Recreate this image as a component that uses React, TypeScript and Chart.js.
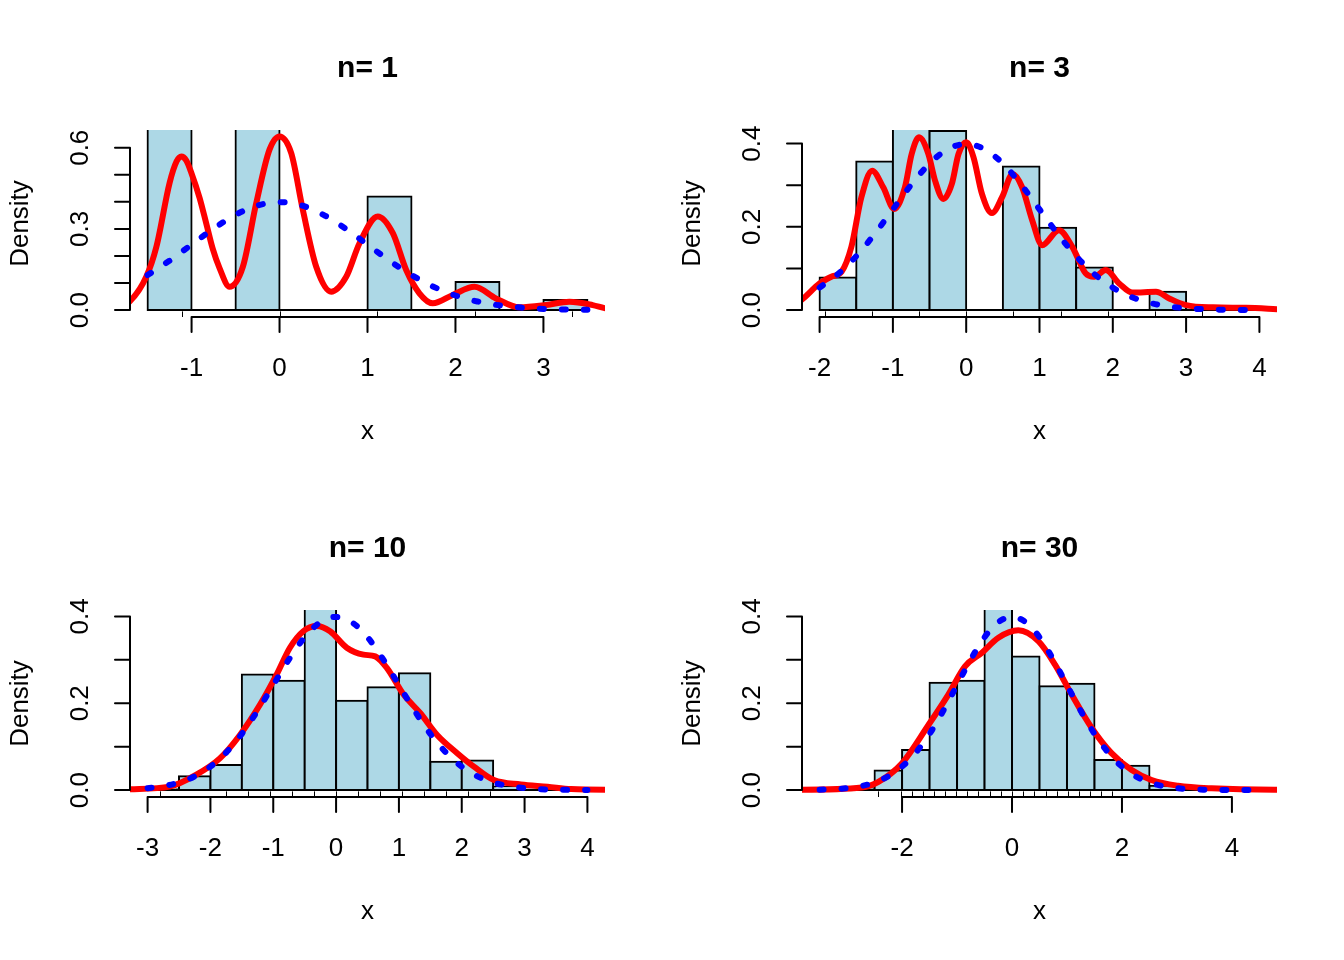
import React, { useEffect, useRef } from "react";
import { Chart, registerables } from "chart.js";

Chart.register(...registerables);

// ---------- data ----------
const panelTitles = ["n= 1", "n= 3", "n= 10", "n= 30"];
const binWidth = 0.5;
const breakStart = [-1.5, -2, -3, -3.5];
const breakEnd = [3.5, 4, 4, 4.5];

// histogram densities (one value per 0.5-wide bin)
const dens1 = [0.72, 0, 0.72, 0, 0, 0.42, 0, 0.104, 0, 0.037];
const dens2 = [0.078, 0.357, 0.44, 0.43, 0, 0.345, 0.198, 0.102, 0, 0.044, 0.008, 0.002];
const dens3 = [0.002, 0.032, 0.058, 0.266, 0.252, 0.52, 0.206, 0.237, 0.269, 0.065, 0.068, 0.008, 0.008, 0.002];
const dens4 = [0.002, 0.004, 0.045, 0.0925, 0.247, 0.252, 0.43, 0.308, 0.239, 0.245, 0.069, 0.056, 0.01, 0.004, 0.002, 0.002];

// kernel density estimates (red)
const kde1X = [-1.85, -1.705, -1.515, -1.4, -1.25, -1.17, -1.117, -1.06, -1.0, -0.909, -0.833, -0.758, -0.682, -0.568, -0.417, -0.265, -0.114, 0, 0.133, 0.265, 0.417, 0.587, 0.758, 0.909, 1.117, 1.288, 1.44, 1.59, 1.742, 1.97, 2.216, 2.46, 2.727, 3.03, 3.295, 3.56, 3.71, 3.85];
const kde1Y = [0.008, 0.031, 0.123, 0.234, 0.47, 0.55, 0.568, 0.553, 0.505, 0.415, 0.32, 0.225, 0.155, 0.086, 0.16, 0.395, 0.593, 0.642, 0.58, 0.37, 0.16, 0.068, 0.123, 0.247, 0.346, 0.284, 0.148, 0.062, 0.025, 0.056, 0.086, 0.043, 0.01, 0.0185, 0.031, 0.0185, 0.006, 0.002];
const kde2X = [-2.4, -2.25, -2.0, -1.84, -1.7, -1.566, -1.43, -1.283, -1.132, -0.982, -0.836, -0.744, -0.644, -0.516, -0.425, -0.311, -0.196, -0.105, 0, 0.1, 0.215, 0.352, 0.489, 0.634, 0.763, 0.9, 1.037, 1.265, 1.447, 1.63, 1.744, 1.904, 2.087, 2.27, 2.589, 2.77, 3.0, 3.366, 3.82, 4.27, 4.4];
const kde2Y = [0.01, 0.024, 0.064, 0.08, 0.092, 0.152, 0.271, 0.335, 0.295, 0.243, 0.295, 0.375, 0.415, 0.375, 0.311, 0.267, 0.303, 0.375, 0.403, 0.367, 0.279, 0.233, 0.271, 0.327, 0.295, 0.216, 0.156, 0.192, 0.152, 0.088, 0.08, 0.096, 0.064, 0.042, 0.044, 0.028, 0.012, 0.0065, 0.0055, 0.002, 0.001];
const kde3X = [-3.45, -3.29, -2.65, -2.23, -1.85, -1.53, -1.21, -0.947, -0.735, -0.522, -0.309, -0.096, 0.17, 0.436, 0.623, 0.81, 1.075, 1.342, 1.608, 1.928, 2.194, 2.513, 2.94, 3.366, 3.74, 4.32, 4.45];
const kde3Y = [0.001, 0.002, 0.008, 0.035, 0.073, 0.127, 0.197, 0.266, 0.328, 0.366, 0.378, 0.366, 0.328, 0.312, 0.308, 0.281, 0.22, 0.177, 0.127, 0.085, 0.054, 0.023, 0.013, 0.0077, 0.0023, 0.001, 0.001];
const kde4X = [-4.0, -3.82, -2.73, -2.43, -2.0, -1.52, -1.158, -0.855, -0.552, -0.248, 0.115, 0.479, 0.782, 1.085, 1.45, 1.81, 2.176, 2.54, 3.02, 3.63, 4.78, 5.0];
const kde4Y = [0.001, 0.001, 0.006, 0.019, 0.062, 0.15, 0.22, 0.285, 0.316, 0.351, 0.368, 0.343, 0.289, 0.22, 0.143, 0.085, 0.046, 0.023, 0.01, 0.004, 0.001, 0.001];

// standard normal density (blue dotted)
const dnormX = [-3.5, -3.25, -3, -2.75, -2.5, -2.25, -2, -1.75, -1.5, -1.25, -1, -0.75, -0.5, -0.25, 0, 0.25, 0.5, 0.75, 1, 1.25, 1.5, 1.75, 2, 2.25, 2.5, 2.75, 3, 3.25, 3.5, 3.75, 4, 4.25, 4.5];
const dnormY = [0.0009, 0.002, 0.0044, 0.0091, 0.0175, 0.0317, 0.054, 0.0863, 0.1295, 0.1826, 0.242, 0.3011, 0.3521, 0.3867, 0.3989, 0.3867, 0.3521, 0.3011, 0.242, 0.1826, 0.1295, 0.0863, 0.054, 0.0317, 0.0175, 0.0091, 0.0044, 0.002, 0.0009, 0.0004, 0.0001, 0.00005, 0.00002];

// rug marks
const rug1 = [-1.11, 0, 1.11, 2.22, 3.32];
const rug2 = [-1.93, -1.28, -0.64, 0, 0.645, 1.29, 1.935, 2.58, 3.22];
const rug3 = [-2.8, -1.75, -1.4, -1.05, -0.7, -0.35, 0, 0.35, 0.7, 1.05, 1.4, 1.75, 2.1, 2.45];
const rug4 = [-2.43, -2.02, -1.82, -1.62, -1.42, -1.21, -1.01, -0.81, -0.61, -0.4, -0.2, 0, 0.2, 0.4, 0.61, 0.81, 1.01, 1.21, 1.42, 1.62, 1.82];

// axes
const xTicks1 = [-1, 0, 1, 2, 3];
const xTicks2 = [-2, -1, 0, 1, 2, 3, 4];
const xTicks3 = [-3, -2, -1, 0, 1, 2, 3, 4];
const xTicks4 = [-2, 0, 2, 4];
const yTicks1 = [0, 0.1, 0.2, 0.3, 0.4, 0.5, 0.6];
const yTicks2 = [0, 0.1, 0.2, 0.3, 0.4];
const yLabels1 = ["0.0", "0.3", "0.6"];
const yLabelVals1 = [0, 0.3, 0.6];
const yLabels2 = ["0.0", "0.2", "0.4"];
const yLabelVals2 = [0, 0.2, 0.4];
const yLimMax = [0.64, 0.416, 0.3989, 0.3989];

const xAxisTitle = "x";
const yAxisTitle = "Density";

const panels = [
  { title: panelTitles[0], b0: breakStart[0], b1: breakEnd[0], dens: dens1, kx: kde1X, ky: kde1Y, rug: rug1, xt: xTicks1, yt: yTicks1, yl: yLabels1, ylv: yLabelVals1, ymax: yLimMax[0] },
  { title: panelTitles[1], b0: breakStart[1], b1: breakEnd[1], dens: dens2, kx: kde2X, ky: kde2Y, rug: rug2, xt: xTicks2, yt: yTicks2, yl: yLabels2, ylv: yLabelVals2, ymax: yLimMax[1] },
  { title: panelTitles[2], b0: breakStart[2], b1: breakEnd[2], dens: dens3, kx: kde3X, ky: kde3Y, rug: rug3, xt: xTicks3, yt: yTicks2, yl: yLabels2, ylv: yLabelVals2, ymax: yLimMax[2] },
  { title: panelTitles[3], b0: breakStart[3], b1: breakEnd[3], dens: dens4, kx: kde4X, ky: kde4Y, rug: rug4, xt: xTicks4, yt: yTicks2, yl: yLabels2, ylv: yLabelVals2, ymax: yLimMax[3] },
];

const FONT = '"Liberation Sans", Arial, sans-serif';
const LABEL_PX = 26;
const TITLE_PX = 30;

function HistPanel({ p }: { p: any }) {
  const ref = useRef<HTMLCanvasElement>(null);
  useEffect(() => {
    const canvas = ref.current!;
    const span = p.b1 - p.b0;
    const centers = p.dens.map((_: number, i: number) => p.b0 + (i + 0.5) * binWidth);

    const rPlugin = {
      id: "rAxes",
      afterDraw(chart: any) {
        const { ctx, chartArea: ca, scales } = chart;
        const xs = scales.x;
        const ys = scales.y;
        ctx.save();
        ctx.strokeStyle = "#000";
        ctx.fillStyle = "#000";
        // rug
        ctx.lineWidth = 1;
        const rugLen = 0.03 * (ca.bottom - ca.top);
        p.rug.forEach((v: number) => {
          const px = Math.round(xs.getPixelForValue(v)) + 0.5;
          ctx.beginPath();
          ctx.moveTo(px, ca.bottom);
          ctx.lineTo(px, ca.bottom - rugLen);
          ctx.stroke();
        });
        // x axis
        ctx.lineWidth = 2;
        ctx.lineCap = "round";
        const xa = xs.getPixelForValue(p.xt[0]);
        const xb = xs.getPixelForValue(p.xt[p.xt.length - 1]);
        ctx.beginPath();
        ctx.moveTo(xa, ca.bottom);
        ctx.lineTo(xb, ca.bottom);
        p.xt.forEach((v: number) => {
          const px = xs.getPixelForValue(v);
          ctx.moveTo(px, ca.bottom);
          ctx.lineTo(px, ca.bottom + 15);
        });
        ctx.stroke();
        // y axis
        const ya = ys.getPixelForValue(p.yt[0]);
        const yb = ys.getPixelForValue(p.yt[p.yt.length - 1]);
        ctx.beginPath();
        ctx.moveTo(ca.left, ya);
        ctx.lineTo(ca.left, yb);
        p.yt.forEach((v: number) => {
          const py = ys.getPixelForValue(v);
          ctx.moveTo(ca.left, py);
          ctx.lineTo(ca.left - 15, py);
        });
        ctx.stroke();
        // x tick labels
        ctx.font = `${LABEL_PX}px ${FONT}`;
        ctx.textAlign = "center";
        ctx.textBaseline = "alphabetic";
        p.xt.forEach((v: number) => {
          ctx.fillText(String(v), xs.getPixelForValue(v), ca.bottom + 59);
        });
        // x title
        ctx.fillText(xAxisTitle, (ca.left + ca.right) / 2, ca.bottom + 122);
        // y tick labels (rotated)
        p.ylv.forEach((v: number, i: number) => {
          ctx.save();
          ctx.translate(ca.left - 42, ys.getPixelForValue(v));
          ctx.rotate(-Math.PI / 2);
          ctx.fillText(p.yl[i], 0, 0);
          ctx.restore();
        });
        // y title
        ctx.save();
        ctx.translate(ca.left - 102, (ca.top + ca.bottom) / 2);
        ctx.rotate(-Math.PI / 2);
        ctx.fillText(yAxisTitle, 0, 0);
        ctx.restore();
        // main title
        ctx.font = `bold ${TITLE_PX}px ${FONT}`;
        ctx.fillText(p.title, (ca.left + ca.right) / 2, ca.top - 53);
        ctx.restore();
      },
    };

    const chart = new Chart(canvas, {
      type: "bar",
      data: {
        datasets: [
          {
            type: "line",
            label: "normal",
            data: dnormX
              .map((x, i) => ({ x, y: dnormY[i] }))
              .filter((pt) => pt.x >= p.b0 - 1e-9 && pt.x <= p.b1 + 1e-9),
            borderColor: "#0000FF",
            borderWidth: 6,
            borderDash: [4, 18],
            borderCapStyle: "round",
            pointRadius: 0,
            cubicInterpolationMode: "monotone",
            tension: 0.4,
            order: 0,
          } as any,
          {
            type: "line",
            label: "kde",
            data: p.kx.map((x: number, i: number) => ({ x, y: p.ky[i] })),
            borderColor: "#FF0000",
            borderWidth: 6,
            borderJoinStyle: "round",
            borderCapStyle: "round",
            pointRadius: 0,
            cubicInterpolationMode: "monotone",
            tension: 0.4,
            order: 1,
          } as any,
          {
            type: "line",
            label: "baseline",
            data: [
              { x: p.b0, y: 0 },
              { x: p.b1, y: 0 },
            ],
            borderColor: "#000000",
            borderWidth: 2,
            pointRadius: 0,
            order: 2,
          } as any,
          {
            type: "bar",
            label: "hist",
            data: centers.map((x: number, i: number) => ({ x, y: p.dens[i] })),
            backgroundColor: "#ADD8E6",
            borderColor: "#000000",
            borderWidth: 2,
            borderSkipped: false,
            inflateAmount: 1,
            barPercentage: 1,
            categoryPercentage: 1,
            order: 3,
          } as any,
        ],
      },
      options: {
        responsive: false,
        animation: false,
        devicePixelRatio: 1,
        events: [],
        layout: { padding: { left: 130, right: 67, top: 130, bottom: 163 } },
        plugins: {
          legend: { display: false },
          tooltip: { enabled: false },
          title: { display: false },
        },
        scales: {
          x: {
            type: "linear",
            display: false,
            offset: false,
            min: p.b0 - 0.04 * span,
            max: p.b1 + 0.04 * span,
            afterBuildTicks: (s: any) => {
              s.ticks = p.xt.map((v: number) => ({ value: v }));
            },
          },
          y: {
            type: "linear",
            display: false,
            min: -0.04 * p.ymax,
            max: 1.04 * p.ymax,
          },
        },
      } as any,
      plugins: [rPlugin],
    });
    return () => chart.destroy();
  }, [p]);
  return <canvas ref={ref} width={672} height={480} style={{ display: "block", width: 672, height: 480 }} />;
}

export default function App() {
  return (
    <div
      style={{
        position: "absolute",
        left: 0,
        top: 0,
        width: 1344,
        height: 960,
        background: "#ffffff",
        display: "grid",
        gridTemplateColumns: "672px 672px",
        gridTemplateRows: "480px 480px",
      }}
    >
      {panels.map((p) => (
        <HistPanel key={p.title} p={p} />
      ))}
    </div>
  );
}
